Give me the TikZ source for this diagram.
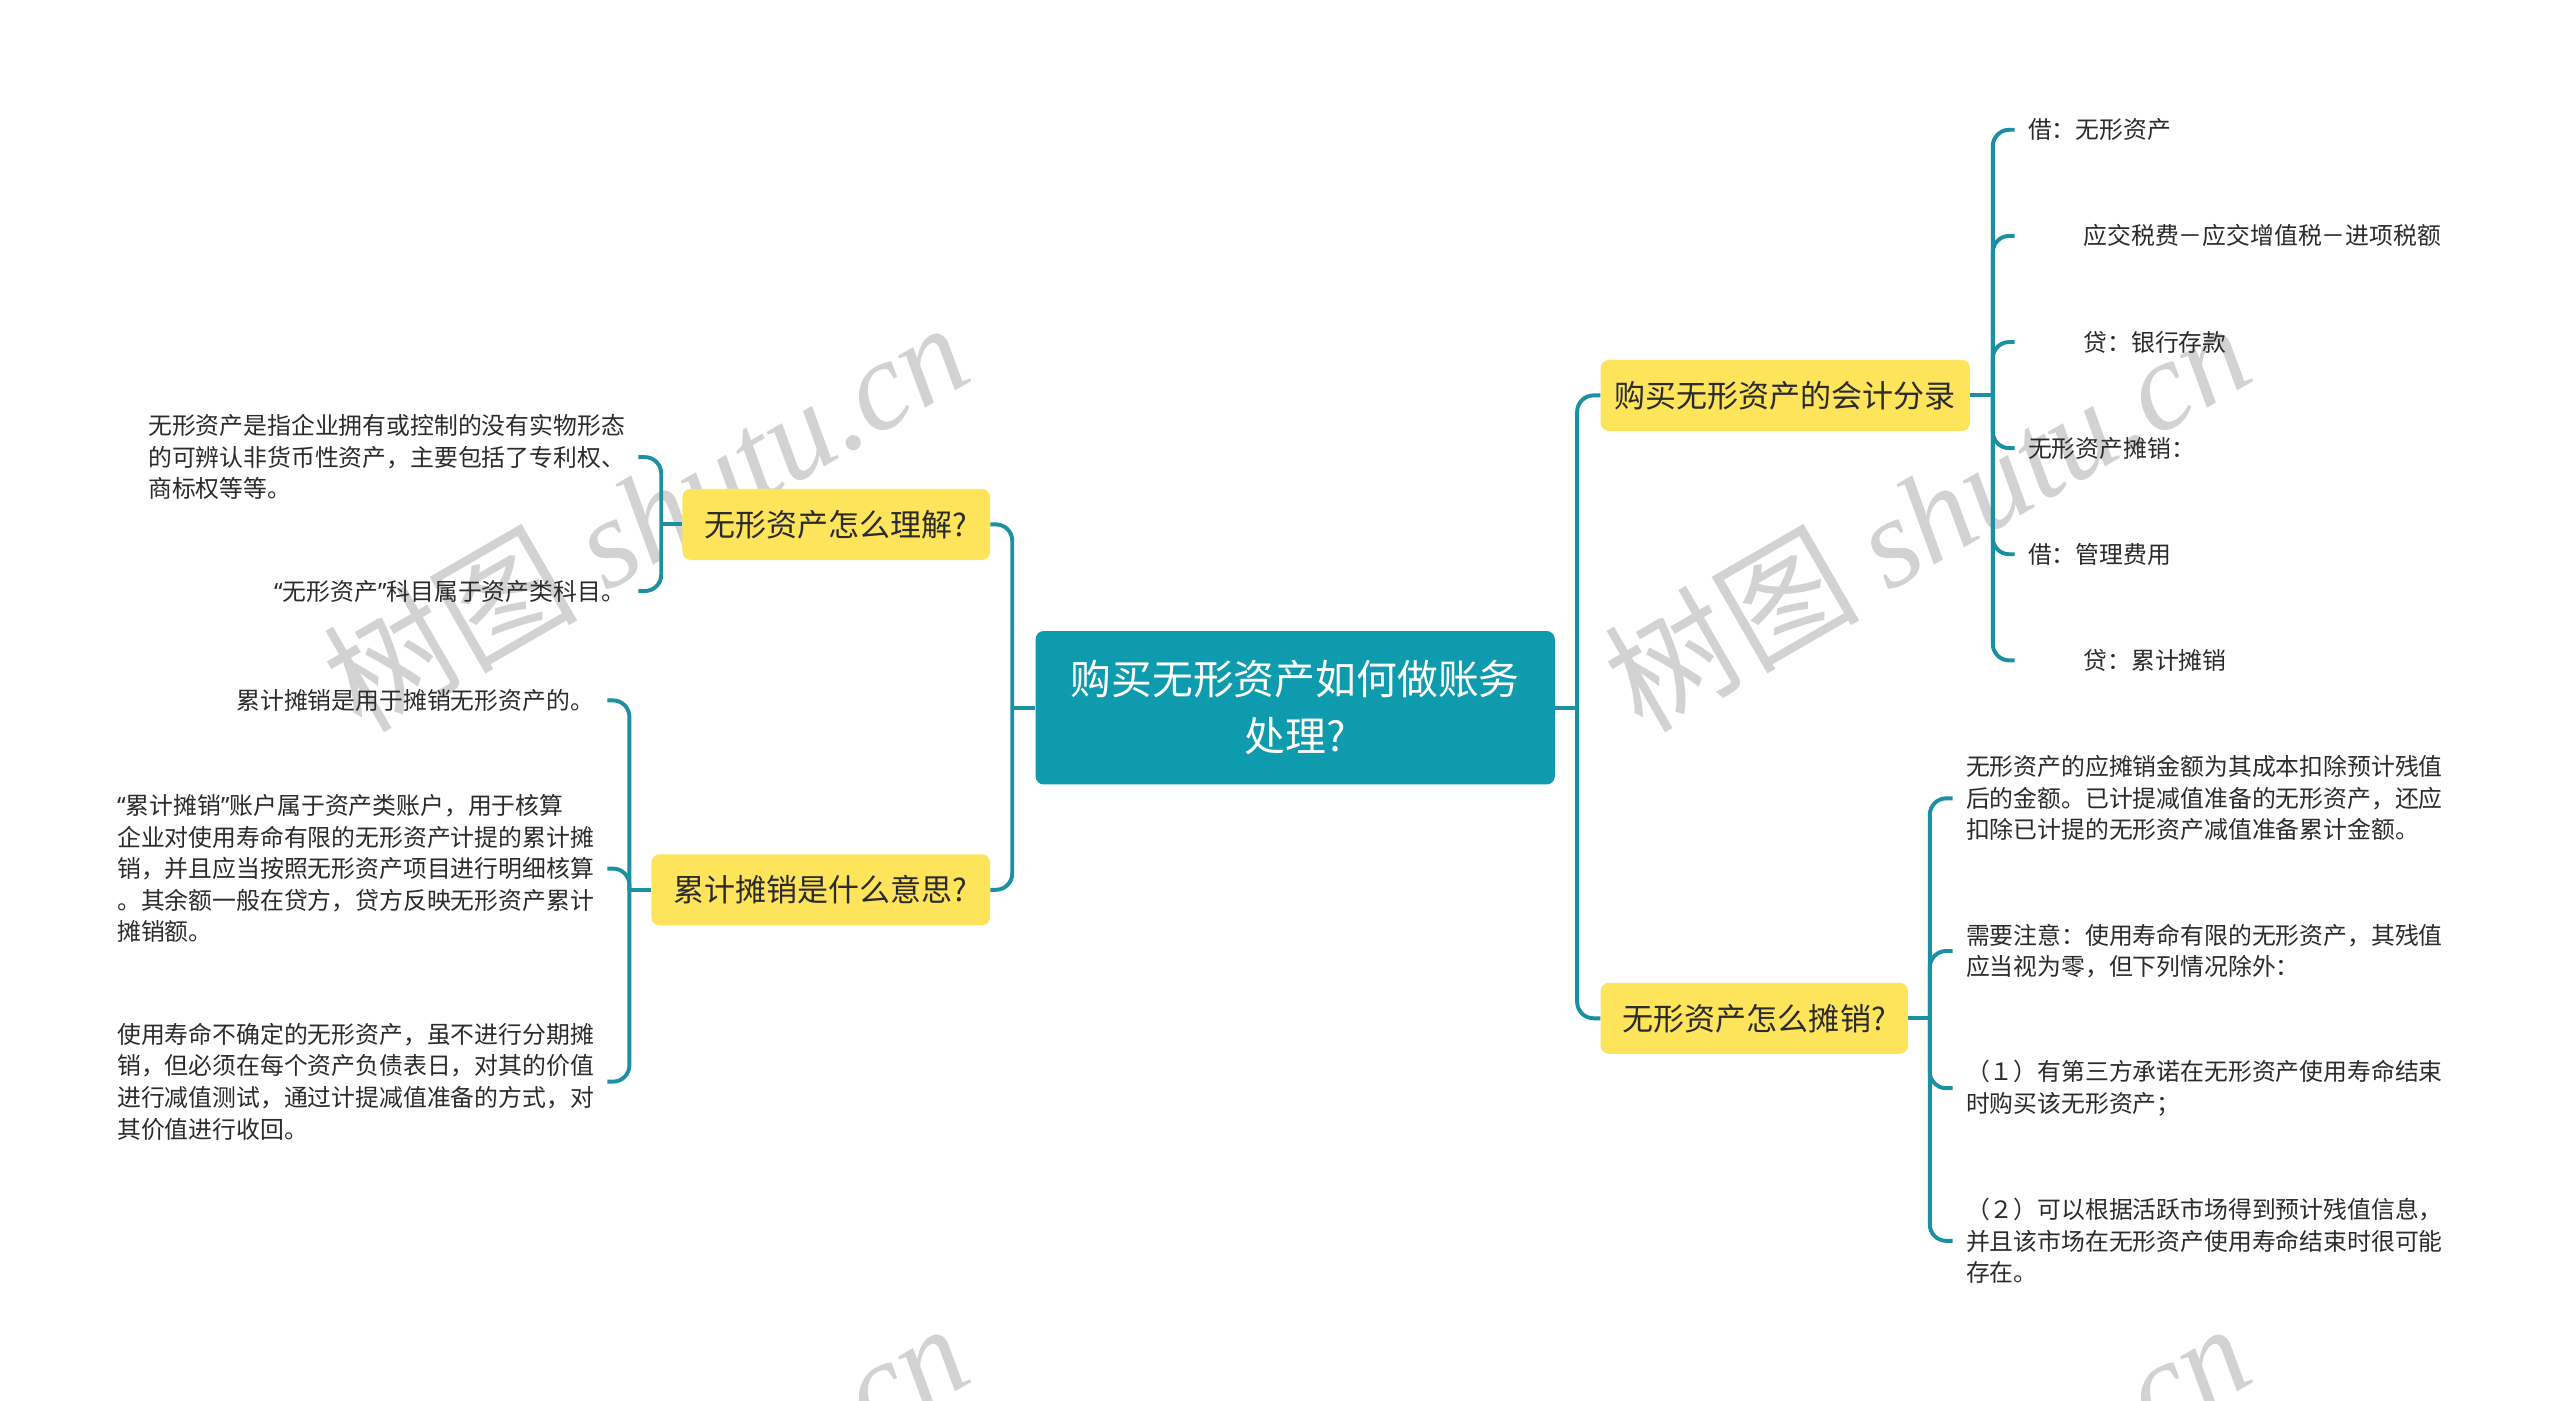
\documentclass[tikz,border=0pt]{standalone}
\usepackage{fontspec}
\setmainfont{Noto Sans CJK SC}
\newfontfamily\wmlatin{Liberation Serif}
\newfontfamily\qfont{Noto Sans}
\definecolor{mteal}{HTML}{0F9BAE}
\definecolor{mline}{HTML}{1A90A2}
\definecolor{myellow}{HTML}{FDE45B}
\definecolor{mtext}{HTML}{2B2B2B}
\definecolor{mwater}{HTML}{D2D2D2}
\tikzset{
  rootbox/.style={fill=mteal, text=white, rounded corners=5pt, inner sep=0pt,
                  minimum width=318pt, minimum height=94pt, align=center,
                  font=\fontsize{25}{35}\selectfont},
  topicbox/.style={fill=myellow, text=mtext, rounded corners=5pt, inner sep=0pt,
                   minimum height=43.5pt, font=\fontsize{19}{24}\selectfont},
  leafr/.style={anchor=west, align=left, inner xsep=8pt, inner ysep=0pt, text=mtext,
                font=\fontsize{14.6}{19.3}\selectfont},
  leafl/.style={anchor=east, align=left, inner xsep=8pt, inner ysep=0pt, text=mtext,
                font=\fontsize{14.6}{19.3}\selectfont},
  conn/.style={draw=mline, line width=2.4pt, rounded corners=10pt},
  wmark/.style={text=mwater, rotate=30, font=\fontsize{78}{80}\selectfont},
}
\newcommand{\wmtext}{树图 {\wmlatin\itshape shutu.cn}}
\newcommand{\ind}{\hspace*{34pt}}
\newcommand{\lquo}{{\qfont “}}
\newcommand{\rquo}{{\qfont ”}}

\begin{document}
\begin{tikzpicture}[x=1pt, y=-1pt]
  \fill[white] (0,0) rectangle (1568,858);
  \useasboundingbox (0,0) rectangle (1568,858);

  % watermark
  \begin{scope}
    \clip (0,0) rectangle (1568,858);
    \node[wmark] (wm1) at (395, 315) {\wmtext};
    \node[wmark] (wm2) at (1180, 315) {\wmtext};
    \node[wmark] (wm3) at (395, 928) {\wmtext};
    \node[wmark] (wm4) at (1180, 928) {\wmtext};
  \end{scope}

  % centre and main topics
  \node[rootbox] (root) at (793.3, 433.5) {购买无形资产如何做账务\\处理?};
  \node[topicbox, minimum width=188.4pt] (und) at (512.2, 321.2) {无形资产怎么理解?};
  \node[topicbox, minimum width=207.4pt] (acc) at (502.7, 545) {累计摊销是什么意思?};
  \node[topicbox, minimum width=226.2pt] (ent) at (1093.5, 242.2) {购买无形资产的会计分录};
  \node[topicbox, minimum width=188.2pt] (amo) at (1074.5, 623.7) {无形资产怎么摊销?};

  \coordinate (lj) at (620, 433.5);
  \coordinate (rj) at (966, 433.5);
  \draw[conn] (root.west) -- (lj);
  \draw[conn] (root.east) -- (rj);
  \draw[conn] (lj) |- (und.east);
  \draw[conn] (lj) |- (acc.east);
  \draw[conn] (rj) |- (ent.west);
  \draw[conn] (rj) |- (amo.west);

  % 无形资产怎么理解?
  \node[leafl] (und1) at (391, 280) {无形资产是指企业拥有或控制的没有实物形态\\的可辨认非货币性资产，主要包括了专利权、\\商标权等等。};
  \node[leafl] (und2) at (391, 362) {\lquo 无形资产\rquo 科目属于资产类科目。};
  \coordinate (undj) at (405, 321.2);
  \draw[conn] (und.west) -- (undj);
  \draw[conn] (undj) |- (und1.east);
  \draw[conn] (undj) |- (und2.east);

  % 累计摊销是什么意思?
  \node[leafl] (acc1) at (372, 429) {累计摊销是用于摊销无形资产的。};
  \node[leafl] (acc2) at (372, 532) {\lquo 累计摊销\rquo 账户属于资产类账户，用于核算\\企业对使用寿命有限的无形资产计提的累计摊\\销，并且应当按照无形资产项目进行明细核算\\。其余额一般在贷方，贷方反映无形资产累计\\摊销额。};
  \node[leafl] (acc3) at (372, 662.5) {使用寿命不确定的无形资产，虽不进行分期摊\\销，但必须在每个资产负债表日，对其的价值\\进行减值测试，通过计提减值准备的方式，对\\其价值进行收回。};
  \coordinate (accj) at (385.5, 545);
  \draw[conn] (acc.west) -- (accj);
  \draw[conn] (accj) |- (acc1.east);
  \draw[conn] (accj) |- (acc2.east);
  \draw[conn] (accj) |- (acc3.east);

  % 购买无形资产的会计分录
  \node[leafr] (ent1) at (1234, 79.5) {借：无形资产};
  \node[leafr] (ent2) at (1234, 144.5) {\ind 应交税费－应交增值税－进项税额};
  \node[leafr] (ent3) at (1234, 209.5) {\ind 贷：银行存款};
  \node[leafr] (ent4) at (1234, 274.5) {无形资产摊销：};
  \node[leafr] (ent5) at (1234, 339.5) {借：管理费用};
  \node[leafr] (ent6) at (1234, 404.5) {\ind 贷：累计摊销};
  \coordinate (entj) at (1220.6, 242.2);
  \draw[conn] (ent.east) -- (entj);
  \foreach \k in {1,...,6} {
    \draw[conn] (entj) |- (ent\k.west);
  }

  % 无形资产怎么摊销?
  \node[leafr] (amo1) at (1196, 489) {无形资产的应摊销金额为其成本扣除预计残值\\后的金额。已计提减值准备的无形资产，还应\\扣除已计提的无形资产减值准备累计金额。};
  \node[leafr] (amo2) at (1196, 582.5) {需要注意：使用寿命有限的无形资产，其残值\\应当视为零，但下列情况除外：};
  \node[leafr] (amo3) at (1196, 666.5) {（１）有第三方承诺在无形资产使用寿命结束\\时购买该无形资产；};
  \node[leafr] (amo4) at (1196, 760) {（２）可以根据活跃市场得到预计残值信息，\\并且该市场在无形资产使用寿命结束时很可能\\存在。};
  \coordinate (amoj) at (1182, 623.7);
  \draw[conn] (amo.east) -- (amoj);
  \foreach \k in {1,...,4} {
    \draw[conn] (amoj) |- (amo\k.west);
  }
\end{tikzpicture}
\end{document}
